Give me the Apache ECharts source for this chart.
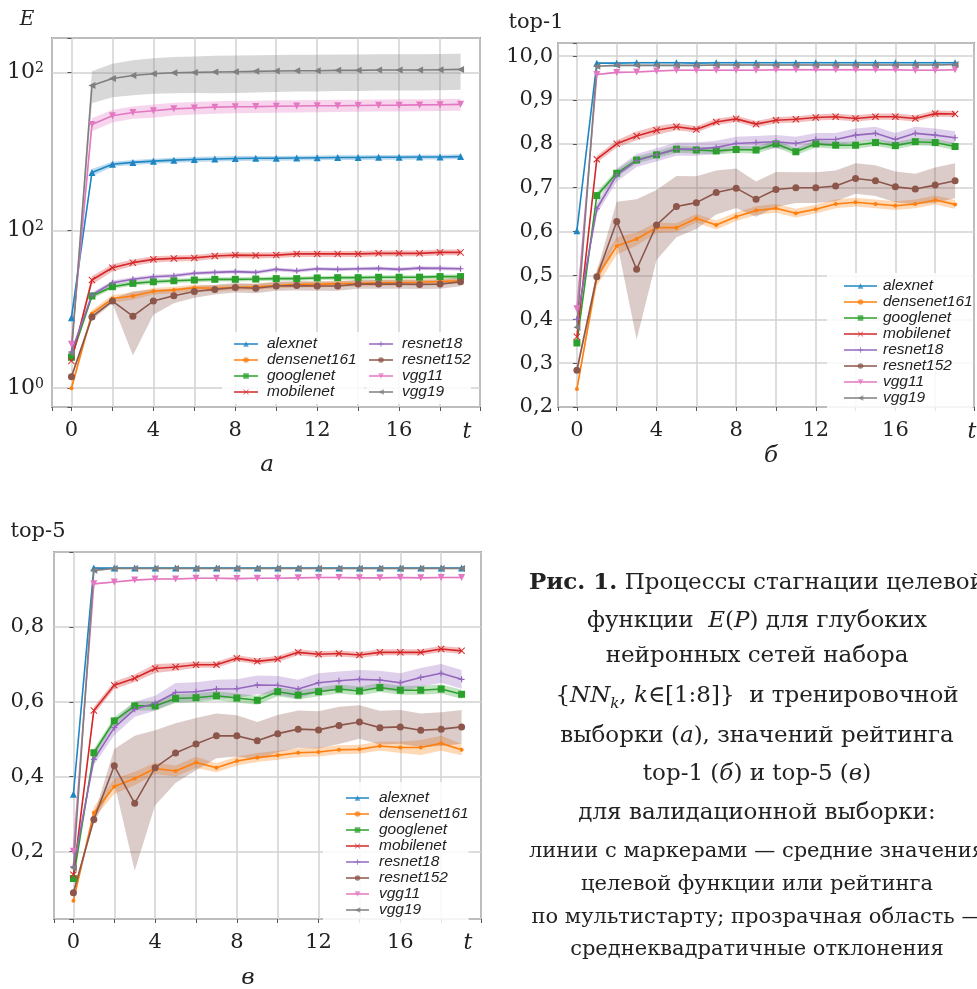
<!DOCTYPE html>
<html><head><meta charset="utf-8">
<script src="https://cdn.jsdelivr.net/npm/echarts@6/dist/echarts.min.js"></script>
<style>html,body{margin:0;padding:0;background:#fff}#c{width:977px;height:989px}</style>
</head><body><div id="c"></div>
<script>
// ---------- data ----------
const T = [0,1,2,3,4,5,6,7,8,9,10,11,12,13,14,15,16,17,18,19];
const NAMES = ['alexnet','densenet161','googlenet','mobilenet','resnet18','resnet152','vgg11','vgg19'];
const X_TICKS = [0,4,8,12,16];
const E_TICK_VALUES = [1,10,100];
const E_TICK_SUP = ['0','2','2'];
const TOP1_TICK_VALUES = [0.2,0.3,0.4,0.5,0.6,0.7,0.8,0.9,1.0];
const TOP1_TICK_LABELS = ['0,2','0,3','0,4','0,5','0,6','0,7','0,8','0,9','10,0'];
const TOP5_TICK_VALUES = [0.2,0.4,0.6,0.8];
const TOP5_TICK_LABELS = ['0,2','0,4','0,6','0,8'];

// (a) E, mean
const E_alexnet     = [2.8,23.3,26.3,27.0,27.5,27.9,28.2,28.4,28.6,28.7,28.7,28.8,28.9,29.0,29.0,29.1,29.1,29.2,29.2,29.4];
const E_densenet161 = [1.0,2.98,3.7,3.84,4.12,4.2,4.33,4.3,4.36,4.4,4.48,4.55,4.55,4.6,4.62,4.65,4.68,4.7,4.75,4.8];
const E_googlenet   = [1.57,3.84,4.4,4.62,4.73,4.8,4.85,4.9,4.9,4.92,4.95,4.95,5.0,5.02,5.02,5.05,5.05,5.06,5.1,5.1];
const E_mobilenet   = [1.49,4.85,5.8,6.25,6.56,6.65,6.7,6.89,6.98,6.95,6.98,7.1,7.1,7.1,7.1,7.16,7.16,7.16,7.26,7.26];
const E_resnet18    = [1.7,3.9,4.66,4.9,5.09,5.16,5.35,5.42,5.48,5.42,5.67,5.55,5.72,5.67,5.72,5.75,5.67,5.77,5.75,5.72];
const E_resnet152   = [1.18,2.83,3.57,2.86,3.57,3.86,4.1,4.23,4.35,4.3,4.45,4.47,4.45,4.45,4.57,4.57,4.57,4.55,4.57,4.73];
const E_vgg11       = [1.9,47,53.3,56,57.4,59,59.8,60.5,60.8,61,61.3,61.5,61.7,61.8,62,62.2,62.3,62.5,62.7,63];
const E_vgg19       = [1.67,83,92,96,98.5,100,100.5,101,101.5,102,102.5,103,103,103.5,103.5,104,104,104,104.5,105];
// (a) E, std
const Esd_alexnet     = [0.2,1.2,1,1,1,1,1,1,1,1,1,1,1,1,1,1,1,1,1,1];
const Esd_densenet161 = [0.05,0.15,0.2,0.2,0.2,0.2,0.2,0.2,0.2,0.2,0.2,0.2,0.2,0.2,0.2,0.2,0.2,0.2,0.2,0.2];
const Esd_googlenet   = [0.05,0.15,0.15,0.15,0.15,0.15,0.15,0.15,0.15,0.15,0.15,0.15,0.15,0.15,0.15,0.15,0.15,0.15,0.15,0.15];
const Esd_mobilenet   = [0.05,0.3,0.3,0.3,0.3,0.3,0.3,0.3,0.3,0.3,0.3,0.3,0.3,0.3,0.3,0.3,0.3,0.3,0.3,0.3];
const Esd_resnet18    = [0.05,0.15,0.15,0.15,0.15,0.15,0.15,0.15,0.15,0.15,0.15,0.15,0.15,0.15,0.15,0.15,0.15,0.15,0.15,0.15];
const Esd_resnet152   = [0.05,0.12,0.12,1.25,0.65,0.4,0.35,0.3,0.3,0.3,0.3,0.3,0.3,0.3,0.3,0.3,0.3,0.3,0.3,0.3];
const Esd_vgg11       = [0.1,4.5,5,5,5.5,5.5,5.5,5.5,5.5,5.5,5.5,5.5,5.5,5.5,5.5,5.5,5.5,5.5,5.5,5.5];
const Esd_vgg19       = [0.1,19,22,24,25,26,26,27,27,27,27,27,27,27,27,27,27,27,27,27];

// (b) top-1, mean
const A1_alexnet     = [0.602,0.984,0.984,0.985,0.985,0.985,0.984,0.985,0.985,0.985,0.985,0.985,0.985,0.985,0.985,0.985,0.985,0.985,0.985,0.985];
const A1_densenet161 = [0.241,0.496,0.567,0.583,0.609,0.609,0.63,0.615,0.634,0.648,0.653,0.642,0.651,0.663,0.667,0.663,0.659,0.663,0.672,0.662];
const A1_googlenet   = [0.346,0.682,0.733,0.763,0.775,0.788,0.786,0.784,0.787,0.786,0.80,0.782,0.80,0.797,0.797,0.803,0.796,0.805,0.803,0.794];
const A1_mobilenet   = [0.36,0.765,0.80,0.818,0.831,0.839,0.833,0.85,0.857,0.845,0.854,0.856,0.86,0.862,0.858,0.862,0.862,0.858,0.869,0.868];
const A1_resnet18    = [0.40,0.652,0.729,0.762,0.775,0.788,0.788,0.792,0.801,0.803,0.805,0.801,0.81,0.81,0.82,0.824,0.81,0.824,0.82,0.814];
const A1_resnet152   = [0.284,0.497,0.623,0.514,0.615,0.657,0.666,0.689,0.699,0.674,0.696,0.70,0.70,0.704,0.721,0.716,0.702,0.697,0.706,0.716];
const A1_vgg11       = [0.424,0.958,0.963,0.964,0.966,0.968,0.968,0.968,0.968,0.968,0.969,0.969,0.969,0.969,0.969,0.969,0.969,0.968,0.968,0.969];
const A1_vgg19       = [0.382,0.977,0.979,0.979,0.979,0.979,0.979,0.98,0.98,0.98,0.98,0.98,0.98,0.98,0.98,0.98,0.98,0.98,0.98,0.981];
// (b) top-1, std
const A1sd_alexnet     = [0.002,0.002,0.002,0.002,0.002,0.002,0.002,0.002,0.002,0.002,0.002,0.002,0.002,0.002,0.002,0.002,0.002,0.002,0.002,0.002];
const A1sd_densenet161 = [0.005,0.02,0.02,0.015,0.012,0.01,0.01,0.01,0.01,0.01,0.01,0.01,0.01,0.01,0.01,0.01,0.01,0.01,0.01,0.01];
const A1sd_googlenet   = [0.005,0.008,0.008,0.008,0.008,0.008,0.008,0.008,0.008,0.008,0.008,0.008,0.008,0.008,0.008,0.008,0.008,0.008,0.008,0.008];
const A1sd_mobilenet   = [0.005,0.008,0.008,0.01,0.01,0.008,0.007,0.007,0.007,0.007,0.007,0.007,0.007,0.007,0.007,0.007,0.007,0.007,0.007,0.007];
const A1sd_resnet18    = [0.005,0.012,0.015,0.015,0.015,0.015,0.015,0.015,0.015,0.015,0.015,0.015,0.015,0.015,0.015,0.015,0.015,0.015,0.015,0.015];
const A1sd_resnet152   = [0.01,0.012,0.045,0.16,0.08,0.07,0.06,0.05,0.045,0.04,0.04,0.035,0.035,0.035,0.035,0.035,0.035,0.035,0.04,0.04];
const A1sd_vgg11       = [0.002,0.002,0.002,0.002,0.002,0.002,0.002,0.002,0.002,0.002,0.002,0.002,0.002,0.002,0.002,0.002,0.002,0.002,0.002,0.002];
const A1sd_vgg19       = [0.002,0.002,0.002,0.002,0.002,0.002,0.002,0.002,0.002,0.002,0.002,0.002,0.002,0.002,0.002,0.002,0.002,0.002,0.002,0.002];

// (c) top-5, mean
const A5_alexnet     = [0.353,0.957,0.957,0.957,0.957,0.957,0.957,0.957,0.957,0.957,0.957,0.957,0.957,0.957,0.957,0.957,0.957,0.957,0.957,0.957];
const A5_densenet161 = [0.069,0.304,0.374,0.395,0.422,0.415,0.438,0.424,0.442,0.451,0.457,0.464,0.466,0.472,0.473,0.482,0.478,0.478,0.489,0.472];
const A5_googlenet   = [0.128,0.464,0.549,0.589,0.589,0.609,0.611,0.616,0.61,0.604,0.627,0.618,0.627,0.634,0.629,0.638,0.631,0.631,0.634,0.62];
const A5_mobilenet   = [0.138,0.577,0.644,0.663,0.689,0.693,0.699,0.699,0.716,0.708,0.714,0.732,0.727,0.729,0.725,0.732,0.732,0.732,0.741,0.736];
const A5_resnet18    = [0.16,0.446,0.531,0.58,0.596,0.625,0.627,0.634,0.635,0.645,0.644,0.634,0.651,0.656,0.66,0.658,0.651,0.665,0.676,0.66];
const A5_resnet152   = [0.09,0.286,0.429,0.329,0.424,0.463,0.487,0.509,0.509,0.496,0.515,0.527,0.525,0.537,0.546,0.531,0.533,0.524,0.527,0.533];
const A5_vgg11       = [0.201,0.915,0.92,0.925,0.928,0.928,0.93,0.93,0.929,0.93,0.93,0.931,0.932,0.932,0.931,0.931,0.932,0.931,0.932,0.932];
const A5_vgg19       = [0.157,0.951,0.956,0.956,0.956,0.956,0.956,0.956,0.956,0.956,0.956,0.956,0.956,0.956,0.956,0.956,0.956,0.956,0.956,0.956];
// (c) top-5, std
const A5sd_alexnet     = [0.002,0.002,0.002,0.002,0.002,0.002,0.002,0.002,0.002,0.002,0.002,0.002,0.002,0.002,0.002,0.002,0.002,0.002,0.002,0.002];
const A5sd_densenet161 = [0.005,0.015,0.02,0.018,0.015,0.015,0.015,0.012,0.012,0.012,0.012,0.012,0.012,0.012,0.012,0.012,0.015,0.02,0.02,0.015];
const A5sd_googlenet   = [0.005,0.01,0.01,0.012,0.012,0.012,0.012,0.012,0.012,0.012,0.012,0.012,0.012,0.012,0.012,0.012,0.012,0.012,0.012,0.012];
const A5sd_mobilenet   = [0.005,0.01,0.01,0.01,0.012,0.01,0.008,0.008,0.008,0.008,0.008,0.008,0.008,0.008,0.008,0.008,0.008,0.008,0.008,0.008];
const A5sd_resnet18    = [0.005,0.015,0.02,0.02,0.02,0.025,0.025,0.025,0.025,0.025,0.025,0.025,0.025,0.025,0.025,0.025,0.025,0.025,0.025,0.025];
const A5sd_resnet152   = [0.008,0.01,0.045,0.18,0.1,0.08,0.07,0.06,0.055,0.05,0.05,0.05,0.05,0.05,0.045,0.045,0.045,0.045,0.045,0.045];
const A5sd_vgg11       = [0.002,0.002,0.002,0.002,0.002,0.002,0.002,0.002,0.002,0.002,0.002,0.002,0.002,0.002,0.002,0.002,0.002,0.002,0.002,0.002];
const A5sd_vgg19       = [0.002,0.002,0.002,0.002,0.002,0.002,0.002,0.002,0.002,0.002,0.002,0.002,0.002,0.002,0.002,0.002,0.002,0.002,0.002,0.002];

// ---------- styles ----------
const COLORS = ['#1f86c4','#ff7f0e','#2ca02c','#d62728','#9467bd','#8c564b','#e377c2','#7f7f7f'];
const MARK_X = 'path://M1,0L5,4L9,0L10,1L6,5L10,9L9,10L5,6L1,10L0,9L4,5L0,1Z';
const MARK_PLUS = 'path://M4,0H6V4H10V6H6V10H4V6H0V4H4Z';
const SYMBOLS = [
  {symbol:'triangle', size:7, rot:0},
  {symbol:'circle', size:4, rot:0},
  {symbol:'rect', size:7, rot:0},
  {symbol:MARK_X, size:7, rot:0},
  {symbol:MARK_PLUS, size:6, rot:0},
  {symbol:'circle', size:7, rot:0},
  {symbol:'triangle', size:7, rot:180},
  {symbol:'triangle', size:7, rot:90}
];
const BAND_OPACITY = 0.3;

const SERIF = 'DejaVu Serif';
const SANS = 'Liberation Sans';

const MEANS = [
  [E_alexnet,E_densenet161,E_googlenet,E_mobilenet,E_resnet18,E_resnet152,E_vgg11,E_vgg19],
  [A1_alexnet,A1_densenet161,A1_googlenet,A1_mobilenet,A1_resnet18,A1_resnet152,A1_vgg11,A1_vgg19],
  [A5_alexnet,A5_densenet161,A5_googlenet,A5_mobilenet,A5_resnet18,A5_resnet152,A5_vgg11,A5_vgg19]
];
const SDS = [
  [Esd_alexnet,Esd_densenet161,Esd_googlenet,Esd_mobilenet,Esd_resnet18,Esd_resnet152,Esd_vgg11,Esd_vgg19],
  [A1sd_alexnet,A1sd_densenet161,A1sd_googlenet,A1sd_mobilenet,A1sd_resnet18,A1sd_resnet152,A1sd_vgg11,A1sd_vgg19],
  [A5sd_alexnet,A5sd_densenet161,A5sd_googlenet,A5sd_mobilenet,A5sd_resnet18,A5sd_resnet152,A5sd_vgg11,A5sd_vgg19]
];

function bandSeries(g, mean, sd, color) {
  const lo = mean.map((m,i)=>m - sd[i]);
  const hi = mean.map((m,i)=>m + sd[i]);
  return {
    type:'custom', xAxisIndex:g, yAxisIndex:g, silent:true, z:1, clip:true, animation:false,
    data: T.map((t,i)=>[t, lo[i], hi[i]]),
    encode:{x:0, y:[1,2]},
    renderItem:(params, api)=>{
      if (params.dataIndex !== 0) return;
      const pts = [];
      for (let i=0;i<T.length;i++) pts.push(api.coord([T[i], hi[i]]));
      for (let i=T.length-1;i>=0;i--) pts.push(api.coord([T[i], lo[i]]));
      return {type:'polygon', shape:{points:pts}, style:{fill:color, opacity:BAND_OPACITY}};
    }
  };
}
function lineSeries(g, k, vals) {
  const s = SYMBOLS[k];
  return {
    type:'line', name:NAMES[k], xAxisIndex:g, yAxisIndex:g, z:3, animation:false,
    data: T.map((t,i)=>[t, vals[i]]),
    symbol:s.symbol, symbolSize:s.size, symbolRotate:s.rot, showSymbol:true,
    lineStyle:{width:1.6, color:COLORS[k]},
    itemStyle:{color:COLORS[k]},
    emphasis:{disabled:true}
  };
}

const series = [];
for (let g=0; g<3; g++) {
  for (let k=0;k<8;k++) series.push(bandSeries(g, MEANS[g][k], SDS[g][k], COLORS[k]));
}
for (let g=0; g<3; g++) {
  for (let k=0;k<8;k++) series.push(lineSeries(g, k, MEANS[g][k]));
}

const GRIDS = [
  {left:52, top:38, width:428, height:369},
  {left:558, top:43, width:426, height:364},
  {left:54, top:552, width:427, height:367}
];

const splitLine = {show:true, lineStyle:{color:'#d2d2d2', width:1.5}};
const axisTick = {show:true, length:4, lineStyle:{color:'#555', width:1}};
const tickFont = {fontFamily:SERIF, fontSize:21, color:'#222'};

const xAxes = GRIDS.map((_,g)=>({
  type:'value', gridIndex:g, min:-0.95, max:19.95, minInterval:2, maxInterval:2,
  axisLine:{show:false}, axisTick, splitLine,
  axisLabel:Object.assign({margin:13, formatter:v=>X_TICKS.indexOf(v)>=0 ? String(v) : ''}, tickFont)
}));

const yAxes = [
  {
    type:'log', logBase:10, gridIndex:0, min:0.76, max:166,
    axisLine:{show:false}, axisTick, splitLine,
    axisLabel:{margin:8, formatter:v=>{
      for (let i=0;i<E_TICK_VALUES.length;i++) if (Math.abs(v-E_TICK_VALUES[i])/E_TICK_VALUES[i] < 1e-6) return '{b|10}{s|'+E_TICK_SUP[i]+'}';
      return '';
    }, rich:{
      b:{fontFamily:SERIF, fontSize:22, color:'#222'},
      s:{fontFamily:SERIF, fontSize:14, color:'#222', verticalAlign:'top', padding:[0,0,6,0]}
    }}
  },
  {
    type:'value', gridIndex:1, min:0.2, max:1.03, interval:0.1,
    axisLine:{show:false}, axisTick, splitLine,
    axisLabel:Object.assign({margin:5, formatter:v=>{
      for (let i=0;i<TOP1_TICK_VALUES.length;i++) if (Math.abs(v-TOP1_TICK_VALUES[i])<1e-6) return TOP1_TICK_LABELS[i];
      return '';
    }}, tickFont)
  },
  {
    type:'value', gridIndex:2, min:0.02, max:1.0, minInterval:0.2, maxInterval:0.2,
    axisLine:{show:false}, axisTick, splitLine,
    axisLabel:Object.assign({margin:10, formatter:v=>{
      for (let i=0;i<TOP5_TICK_VALUES.length;i++) if (Math.abs(v-TOP5_TICK_VALUES[i])<1e-6) return TOP5_TICK_LABELS[i];
      return '';
    }}, tickFont)
  }
];

function legend(names, left, top, padding, itemWidth, textPad) {
  return {
    data:names, orient:'vertical', left, top, padding, itemGap:0, itemWidth, itemHeight:7,
    backgroundColor:'rgba(255,255,255,0.85)', selectedMode:false, z:10,
    itemStyle:{opacity:0.75}, lineStyle:{opacity:0.75},
    textStyle:{fontFamily:SANS, fontStyle:'italic', fontSize:15.5, lineHeight:15, color:'#222', padding:[0,0,0,textPad]}
  };
}
const legends = [
  legend(NAMES.slice(0,4), 222, 332, [4,8,4,11], 24, 4),
  legend(NAMES.slice(4), 366, 332, [4,0,4,2], 24, 4),
  legend(NAMES, 827, 273, [5,0,5,16], 33, 1),
  legend(NAMES, 323, 782, [8,0,8,22], 23, 5)
];

function txt(x, y, text, size, style, extra) {
  return {type:'text', x, y, z:100, silent:true, style:Object.assign({
    text, fontFamily:SERIF, fontSize:size, fontStyle:style||'normal', fill:'#222', align:'center', verticalAlign:'middle'
  }, extra||{})};
}
const CAP_RICH = {
  b:{fontFamily:SERIF, fontSize:23, fontWeight:'bold', fill:'#222', color:'#222'},
  i:{fontFamily:SERIF, fontSize:23, fontStyle:'italic', fill:'#222', color:'#222'},
  sub:{fontFamily:SERIF, fontSize:15, fontStyle:'italic', fill:'#222', color:'#222', verticalAlign:'bottom', padding:[16,0,0,0]}
};
const CAPTION = [
  {y:583, size:23, text:'{b|Рис. 1.} Процессы стагнации целевой'},
  {y:621, size:23, text:'функции  {i|E}({i|P}) для глубоких'},
  {y:656, size:23, text:'нейронных сетей набора'},
  {y:696, size:23, text:'{{i|NN}{sub|k}, {i|k}∈[1:8]}  и тренировочной'},
  {y:736, size:23, text:'выборки ({i|а}), значений рейтинга'},
  {y:774, size:23, text:'top-1 ({i|б}) и top-5 ({i|в})'},
  {y:813, size:23, text:'для валидационной выборки:'},
  {y:852, size:21, text:'линии с маркерами — средние значения'},
  {y:885, size:21, text:'целевой функции или рейтинга'},
  {y:918, size:21, text:'по мультистарту; прозрачная область —'},
  {y:950, size:21, text:'среднеквадратичные отклонения'}
];

const graphic = [
  txt(27, 20, 'E', 20, 'italic'),
  txt(536, 23, 'top-1', 21),
  txt(38, 532, 'top-5', 21),
  txt(267, 465, 'а', 23, 'italic'),
  txt(771, 456, 'б', 23, 'italic'),
  txt(248, 978, 'в', 23, 'italic'),
  txt(467, 432, 't', 22, 'italic'),
  txt(972, 432, 't', 22, 'italic'),
  txt(468, 943, 't', 22, 'italic')
].concat(CAPTION.map(c=>txt(757, c.y, c.text, c.size, 'normal', {rich:CAP_RICH})));

const chart = echarts.init(document.getElementById('c'), null, {renderer:'canvas'});
chart.setOption({
  backgroundColor:'#fff',
  animation:false,
  grid: GRIDS.map(g=>Object.assign({show:true, borderColor:'#555', borderWidth:1.5, backgroundColor:'rgba(0,0,0,0)'}, g)),
  xAxis: xAxes,
  yAxis: yAxes,
  legend: legends,
  series,
  graphic
});
</script></body></html>
